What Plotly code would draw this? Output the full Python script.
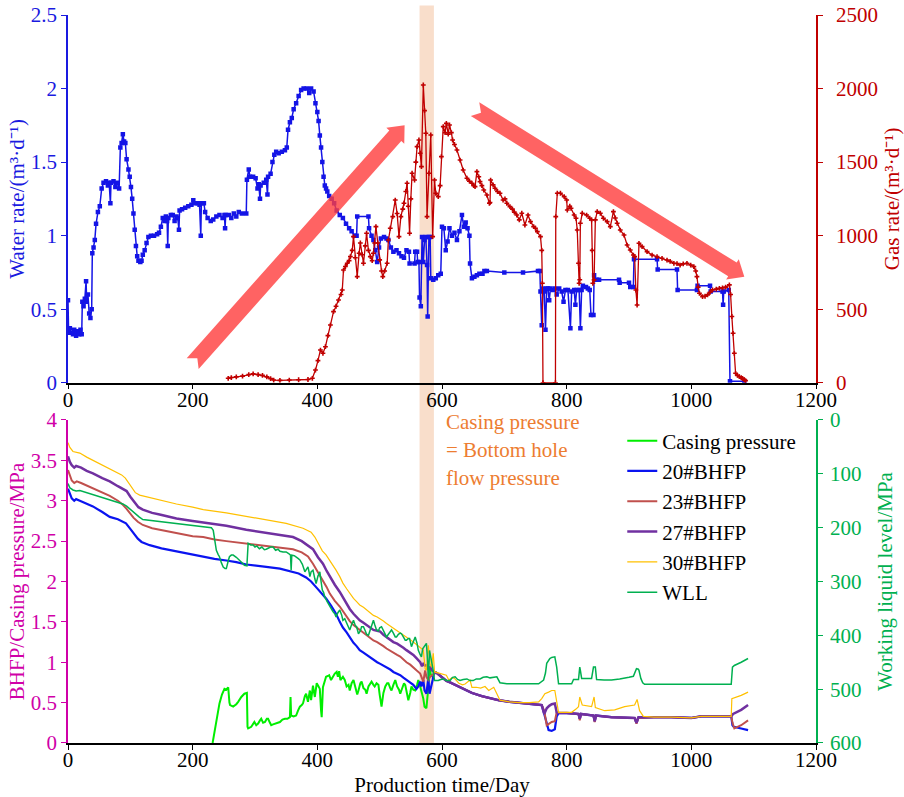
import math
import plotly.graph_objects as go

FONT = "Liberation Serif"

# ---------------- top panel: water rate (left) and gas rate (right) ----------------
water_pts = [
    (0, 0.56), (1, 0.34), (3, 0.37), (5, 0.34), (8, 0.33), (10, 0.36), (13, 0.32), (15, 0.35),
    (18, 0.33), (20, 0.36), (22, 0.33), (23, 0.55), (25, 0.52), (27, 0.57), (29, 0.69), (30, 0.55),
    (32, 0.6), (34, 0.47), (36, 0.44), (38, 0.5), (39, 0.88), (41, 0.92), (43, 0.97), (45, 1.08),
    (48, 1.16), (51, 1.2), (54, 1.32), (57, 1.36), (61, 1.37), (64, 1.34), (66, 1.36), (68, 1.22),
    (69, 1.36), (73, 1.37), (76, 1.33), (79, 1.36), (82, 1.32), (84, 1.6), (86, 1.63), (88, 1.69),
    (90, 1.64), (92, 1.63), (94, 1.52), (97, 1.45), (99, 1.4), (101, 1.33), (103, 1.25), (105, 1.15),
    (107, 1.04), (109, 0.93), (111, 0.86), (113, 0.83), (116, 0.82), (118, 0.83), (120, 0.87),
    (123, 0.9), (126, 0.95), (129, 0.99), (133, 1.0), (138, 1.0), (143, 1.01), (146, 1.02),
    (149, 1.06), (152, 1.12), (155, 1.1), (157, 1.13), (159, 1.1), (160, 0.93), (161, 1.12),
    (165, 1.14), (168, 1.14), (171, 1.1), (174, 1.13), (176, 1.12), (178, 1.04), (179, 1.17),
    (183, 1.18), (188, 1.19), (193, 1.2), (198, 1.21), (201, 1.24), (204, 1.22), (208, 1.22),
    (211, 1.21), (213, 1.0), (214, 1.22), (218, 1.22), (220, 1.16), (224, 1.12), (229, 1.1),
    (233, 1.11), (238, 1.13), (243, 1.14), (248, 1.12), (251, 1.14), (252, 1.05), (253, 1.14),
    (258, 1.14), (262, 1.12), (266, 1.15), (270, 1.13), (274, 1.16), (279, 1.15), (286, 1.15),
    (287, 1.38), (290, 1.45), (292, 1.4), (297, 1.4), (301, 1.39), (304, 1.32), (306, 1.35),
    (308, 1.25), (309, 1.34), (314, 1.36), (318, 1.38), (320, 1.28), (321, 1.4), (325, 1.42),
    (328, 1.5), (331, 1.55), (334, 1.57), (338, 1.56), (343, 1.57), (348, 1.58), (351, 1.6),
    (353, 1.72), (356, 1.77), (359, 1.8), (362, 1.86), (366, 1.9), (370, 1.95), (374, 1.99),
    (378, 2.0), (383, 2.0), (387, 1.97), (390, 2.0), (394, 1.98), (397, 1.9), (400, 1.84),
    (402, 1.78), (404, 1.68), (406, 1.6), (408, 1.5), (410, 1.4), (412, 1.34), (414, 1.32),
    (416, 1.3), (419, 1.27), (423, 1.25), (427, 1.22), (431, 1.17), (436, 1.14), (441, 1.12),
    (446, 1.08), (451, 1.05), (455, 1.03), (460, 1.0), (463, 1.0), (464, 1.13), (482, 1.13),
    (483, 1.05), (487, 1.0), (490, 0.97), (493, 0.9), (496, 0.82), (499, 0.92), (502, 0.98),
    (507, 0.99), (511, 0.98), (514, 0.97), (518, 0.92), (522, 0.89), (527, 0.9), (531, 0.88),
    (535, 0.86), (539, 0.85), (543, 0.9), (547, 0.89), (548, 0.81), (556, 0.81), (557, 0.89),
    (560, 0.89), (561, 0.82), (563, 0.82), (564, 0.58), (566, 0.52), (568, 0.99), (570, 0.82),
    (572, 0.97), (574, 0.99), (576, 0.8), (577, 0.45), (579, 0.99), (581, 0.99), (582, 0.71),
    (586, 0.7), (590, 0.71), (594, 0.73), (598, 0.74), (600, 1.06), (603, 1.05), (606, 0.9),
    (609, 0.96), (612, 1.05), (616, 1.0), (620, 1.02), (624, 0.97), (628, 1.03), (632, 1.14),
    (635, 1.06), (638, 1.09), (641, 1.05), (644, 1.0), (645, 0.81), (648, 0.71), (652, 0.72),
    (656, 0.73), (660, 0.74), (665, 0.74), (668, 0.76), (672, 0.76), (700, 0.75), (730, 0.75),
    (754, 0.76), (757, 0.76), (758, 0.62), (760, 0.39), (762, 0.64), (764, 0.62), (766, 0.36),
    (768, 0.64), (770, 0.64), (772, 0.56), (774, 0.64), (778, 0.63), (781, 0.64), (784, 0.6),
    (788, 0.64), (792, 0.62), (795, 0.55), (798, 0.63), (802, 0.63), (806, 0.37), (808, 0.62),
    (812, 0.63), (814, 0.53), (816, 0.63), (820, 0.63), (822, 0.37), (824, 0.63), (826, 0.66),
    (831, 0.65), (834, 0.64), (837, 0.63), (839, 0.46), (843, 0.46), (844, 0.73), (848, 0.7),
    (852, 0.7), (884, 0.7), (885, 0.68), (900, 0.68), (902, 0.65), (907, 0.65), (908, 0.84),
    (945, 0.84), (946, 0.77), (977, 0.77), (978, 0.63), (1009, 0.63), (1010, 0.66), (1030, 0.66),
    (1031, 0.62), (1050, 0.62), (1051, 0.53), (1052, 0.62), (1060, 0.63), (1062, 0.01), (1085, 0.01),
]

gas_pts = [
    (257, 30), (262, 35), (270, 40), (280, 45), (290, 55), (297, 60), (305, 55), (312, 50),
    (319, 40), (325, 28), (330, 18), (340, 16), (355, 18), (370, 20), (385, 22), (392, 30),
    (397, 86), (401, 150), (405, 222), (409, 200), (413, 245), (417, 320), (421, 392), (426, 483),
    (430, 520), (434, 562), (438, 600), (440, 630), (442, 766), (445, 790), (448, 812), (451, 830),
    (453, 857), (456, 900), (458, 993), (461, 850), (464, 721), (467, 880), (469, 950), (472, 870),
    (474, 812), (477, 930), (479, 1016), (482, 900), (485, 857), (488, 830), (490, 880), (492, 950),
    (494, 1061), (497, 950), (500, 835), (503, 760), (505, 721), (508, 760), (512, 812), (514, 970),
    (517, 1050), (521, 1129), (525, 1242), (528, 1150), (531, 993), (534, 1129), (537, 1180),
    (539, 1220), (542, 1300), (544, 1356), (546, 1200), (548, 1016), (550, 1250), (552, 1424),
    (556, 1378), (558, 1500), (560, 1605), (563, 1650), (565, 1560), (567, 1469), (570, 2024),
    (572, 1850), (574, 1696), (576, 1129), (579, 1424), (582, 1684), (585, 993), (588, 1378),
    (590, 1288), (594, 1265), (597, 1340), (599, 1537), (602, 1741), (605, 1700), (607, 1763),
    (610, 1690), (612, 1752), (615, 1700), (617, 1650), (620, 1620), (624, 1582), (629, 1514),
    (634, 1446), (640, 1390), (644, 1370), (648, 1356), (651, 1340), (653, 1333), (656, 1435),
    (659, 1400), (661, 1367), (664, 1340), (667, 1310), (672, 1276), (676, 1220), (677, 1225),
    (678, 1378), (682, 1345), (685, 1322), (689, 1300), (693, 1288), (698, 1242), (701, 1250),
    (704, 1220), (709, 1197), (713, 1180), (716, 1160), (720, 1140), (724, 1107), (728, 1152),
    (733, 1072), (738, 1140), (742, 1095), (747, 1061), (750, 1050), (753, 1027), (758, 993),
    (760, 900), (761, 676), (762, 0), (782, 0), (782.5, 1129), (785, 1288), (790, 1288),
    (796, 1265), (800, 1242), (801, 1174), (805, 1200), (807, 1186), (812, 1140), (815, 1118),
    (817, 1038), (819, 812), (820, 676), (821, 700), (822, 1084), (825, 1152), (832, 1140),
    (837, 1118), (840, 1107), (841, 900), (842, 676), (844, 699), (846, 1107), (849, 1163),
    (854, 1152), (859, 1118), (865, 1095), (870, 1061), (875, 1163), (878, 1120), (881, 1084),
    (886, 1038), (892, 1004), (897, 936), (902, 902), (907, 868), (909, 857), (911, 630),
    (913, 528), (916, 948), (921, 925), (929, 891), (937, 868), (945, 857), (953, 846),
    (961, 834), (966, 825), (972, 812), (977, 810), (982, 800), (987, 808), (993, 812),
    (999, 800), (1004, 789), (1007, 760), (1009, 721), (1011, 650), (1013, 608), (1018, 585),
    (1022, 588), (1026, 597), (1030, 615), (1034, 631), (1040, 636), (1045, 642), (1050, 645),
    (1055, 650), (1061, 665), (1063, 600), (1065, 450), (1067, 336), (1069, 200), (1071, 64),
    (1074, 50), (1077, 41), (1080, 35), (1082, 30), (1085, 20), (1087, 14),
]

# ---------------- bottom panel: pressures (left) and working liquid level (right) ----------------
casing_pts = [
    (232, 0.0), (235, 0.14), (238, 0.28), (241, 0.42), (243, 0.49), (247, 0.6), (251, 0.67),
    (254, 0.66), (257, 0.69), (259, 0.5), (260, 0.47), (265, 0.45), (270, 0.48), (273, 0.51),
    (278, 0.57), (283, 0.61), (287, 0.62), (288, 0.2), (289, 0.18), (294, 0.2), (297, 0.24),
    (299, 0.26), (302, 0.22), (305, 0.24), (308, 0.28), (310, 0.3), (313, 0.25), (316, 0.26),
    (319, 0.3), (321, 0.3), (324, 0.25), (326, 0.22), (329, 0.23), (332, 0.24), (336, 0.25),
    (340, 0.26), (344, 0.29), (348, 0.3), (352, 0.3), (356, 0.32), (357, 0.57), (358, 0.34),
    (362, 0.33), (366, 0.34), (369, 0.4), (372, 0.45), (375, 0.47), (377, 0.49), (380, 0.58),
    (382, 0.61), (385, 0.51), (388, 0.65), (390, 0.53), (393, 0.71), (396, 0.57), (399, 0.74),
    (402, 0.7), (404, 0.67), (406, 0.4), (407, 0.32), (409, 0.69), (412, 0.78), (414, 0.82),
    (417, 0.83), (419, 0.84), (422, 0.78), (425, 0.83), (428, 0.86), (431, 0.88), (433, 0.82),
    (435, 0.89), (437, 0.78), (441, 0.82), (444, 0.78), (447, 0.7), (450, 0.72), (452, 0.65),
    (455, 0.74), (458, 0.78), (461, 0.7), (464, 0.6), (466, 0.65), (469, 0.74), (471, 0.76),
    (474, 0.68), (477, 0.66), (479, 0.61), (482, 0.7), (485, 0.74), (487, 0.76), (490, 0.72),
    (492, 0.7), (495, 0.74), (498, 0.72), (500, 0.6), (503, 0.45), (506, 0.62), (509, 0.7),
    (512, 0.74), (514, 0.74), (517, 0.68), (519, 0.65), (522, 0.72), (525, 0.78), (528, 0.7),
    (531, 0.66), (533, 0.61), (536, 0.68), (539, 0.74), (541, 0.72), (544, 0.6), (546, 0.53),
    (549, 0.62), (551, 0.7), (554, 0.66), (557, 0.65), (560, 0.72), (562, 0.78), (565, 0.7),
    (567, 0.65), (570, 0.55), (572, 0.45), (575, 0.43), (577, 0.6), (578, 0.78), (580, 0.94),
    (582, 0.85), (585, 0.82),
]

bhfp20_pts = [
    (0, 3.15), (3, 3.08), (6, 3.03), (10, 3.0), (13, 3.02), (19, 3.0), (30, 2.96), (40, 2.93),
    (55, 2.86), (67, 2.8), (80, 2.77), (88, 2.74), (93, 2.72), (99, 2.66), (105, 2.6), (112, 2.53),
    (118, 2.49), (131, 2.45), (150, 2.41), (163, 2.39), (180, 2.36), (200, 2.33), (217, 2.31),
    (235, 2.28), (254, 2.26), (270, 2.24), (286, 2.21), (300, 2.2), (318, 2.18), (340, 2.16),
    (356, 2.13), (370, 2.1), (382, 2.05), (390, 2.0), (398, 1.93), (406, 1.86), (414, 1.79),
    (422, 1.7), (430, 1.6), (436, 1.5), (441, 1.43), (447, 1.37), (452, 1.31), (458, 1.24),
    (463, 1.2), (468, 1.15), (474, 1.12), (479, 1.09), (485, 1.06), (490, 1.03), (496, 1.0),
    (501, 0.98), (506, 0.96), (511, 0.94), (517, 0.91), (522, 0.88), (528, 0.86), (533, 0.84),
    (538, 0.81), (543, 0.78), (549, 0.75), (554, 0.72), (559, 0.67), (562, 0.7), (565, 0.76),
    (567, 0.7), (570, 0.78), (572, 0.65), (575, 0.61), (578, 0.8), (580, 0.61), (583, 0.7),
    (585, 0.78), (587, 0.86), (591, 0.87), (596, 0.84), (602, 0.8), (607, 0.77), (613, 0.75),
    (618, 0.73), (627, 0.7), (637, 0.66), (648, 0.62), (664, 0.58), (680, 0.55), (691, 0.53),
    (708, 0.51), (723, 0.5), (740, 0.49), (755, 0.48), (760, 0.47), (764, 0.36), (768, 0.25),
    (771, 0.16), (776, 0.15), (781, 0.17), (784, 0.33), (787, 0.37), (800, 0.37), (819, 0.36),
    (821, 0.3), (823, 0.36), (843, 0.34), (845, 0.27), (847, 0.34), (872, 0.32), (909, 0.31),
    (912, 0.25), (915, 0.31), (940, 0.32), (968, 0.32), (1000, 0.31), (1016, 0.33), (1064, 0.33),
    (1066, 0.22), (1068, 0.2), (1080, 0.18), (1091, 0.16),
]

bhfp23_pts = [
    (0, 3.38), (3, 3.3), (6, 3.25), (10, 3.22), (14, 3.24), (21, 3.22), (30, 3.19), (40, 3.15),
    (55, 3.1), (67, 3.06), (80, 3.0), (88, 2.95), (94, 2.9), (99, 2.85), (105, 2.79), (112, 2.74),
    (120, 2.7), (135, 2.66), (147, 2.64), (174, 2.6), (200, 2.56), (217, 2.55), (235, 2.52),
    (254, 2.5), (286, 2.47), (318, 2.44), (340, 2.42), (361, 2.4), (375, 2.36), (385, 2.31),
    (393, 2.22), (401, 2.12), (409, 2.02), (415, 1.93), (420, 1.85), (428, 1.76), (436, 1.69),
    (441, 1.63), (447, 1.56), (452, 1.51), (458, 1.46), (463, 1.43), (468, 1.4), (474, 1.36),
    (479, 1.33), (485, 1.3), (490, 1.27), (496, 1.25), (501, 1.23), (506, 1.2), (511, 1.17),
    (517, 1.14), (522, 1.11), (528, 1.09), (533, 1.07), (538, 1.03), (543, 1.0), (549, 0.97),
    (554, 0.94), (559, 0.9), (565, 0.86), (568, 0.8), (570, 0.76), (573, 0.9), (575, 0.82),
    (578, 0.78), (581, 0.82), (584, 0.84), (587, 0.86), (591, 0.87), (596, 0.84), (602, 0.8),
    (607, 0.77), (613, 0.75), (618, 0.73), (627, 0.7), (637, 0.66), (648, 0.62), (664, 0.58),
    (680, 0.55), (691, 0.53), (708, 0.51), (723, 0.5), (740, 0.49), (755, 0.48), (760, 0.47),
    (764, 0.4), (768, 0.22), (772, 0.24), (776, 0.26), (781, 0.27), (784, 0.38), (787, 0.37),
    (800, 0.37), (819, 0.36), (821, 0.28), (823, 0.36), (843, 0.34), (845, 0.26), (847, 0.34),
    (872, 0.32), (909, 0.31), (912, 0.24), (915, 0.31), (940, 0.32), (968, 0.32), (1000, 0.31),
    (1016, 0.33), (1064, 0.33), (1066, 0.25), (1069, 0.18), (1080, 0.22), (1091, 0.28),
]

bhfp27_pts = [
    (0, 3.55), (3, 3.48), (6, 3.44), (10, 3.41), (13, 3.43), (21, 3.41), (30, 3.37), (40, 3.34),
    (55, 3.28), (67, 3.24), (80, 3.18), (88, 3.15), (94, 3.12), (100, 3.05), (107, 2.98),
    (113, 2.92), (120, 2.89), (135, 2.85), (147, 2.83), (174, 2.78), (200, 2.75), (217, 2.73),
    (235, 2.71), (254, 2.69), (286, 2.64), (318, 2.6), (340, 2.57), (361, 2.55), (375, 2.5),
    (385, 2.45), (393, 2.4), (401, 2.3), (409, 2.22), (415, 2.13), (420, 2.06), (428, 1.96),
    (436, 1.87), (441, 1.8), (447, 1.73), (452, 1.66), (458, 1.6), (463, 1.56), (468, 1.52),
    (474, 1.49), (479, 1.46), (485, 1.43), (490, 1.4), (496, 1.39), (501, 1.38), (506, 1.34),
    (511, 1.31), (517, 1.28), (522, 1.25), (528, 1.23), (533, 1.21), (538, 1.18), (543, 1.15),
    (549, 1.12), (554, 1.09), (559, 1.05), (565, 1.0), (568, 0.95), (570, 0.98), (573, 0.96),
    (575, 0.96), (578, 0.92), (581, 0.94), (584, 0.9), (587, 0.88), (591, 0.87), (596, 0.84),
    (602, 0.8), (607, 0.77), (613, 0.75), (618, 0.73), (627, 0.7), (637, 0.66), (648, 0.62),
    (664, 0.58), (680, 0.55), (691, 0.53), (708, 0.51), (723, 0.5), (740, 0.49), (755, 0.48),
    (760, 0.47), (764, 0.36), (768, 0.43), (772, 0.46), (776, 0.48), (781, 0.49), (784, 0.38),
    (787, 0.37), (800, 0.37), (819, 0.36), (821, 0.3), (823, 0.36), (843, 0.34), (845, 0.27),
    (847, 0.34), (872, 0.32), (909, 0.31), (912, 0.25), (915, 0.32), (940, 0.32), (968, 0.32),
    (1000, 0.31), (1016, 0.33), (1064, 0.33), (1067, 0.36), (1080, 0.41), (1091, 0.47),
]

bhfp30_pts = [
    (0, 3.72), (3, 3.66), (8, 3.61), (13, 3.6), (19, 3.59), (30, 3.54), (40, 3.5), (55, 3.44),
    (67, 3.4), (80, 3.34), (86, 3.32), (92, 3.28), (97, 3.22), (103, 3.15), (108, 3.1),
    (115, 3.07), (120, 3.06), (147, 3.01), (174, 2.96), (200, 2.92), (217, 2.89), (254, 2.85),
    (289, 2.8), (318, 2.76), (350, 2.72), (377, 2.66), (390, 2.61), (396, 2.55), (402, 2.46),
    (408, 2.38), (414, 2.33), (422, 2.24), (430, 2.14), (436, 2.06), (441, 1.98), (447, 1.91),
    (452, 1.85), (458, 1.79), (463, 1.75), (468, 1.71), (474, 1.68), (479, 1.65), (485, 1.61),
    (490, 1.58), (496, 1.56), (501, 1.54), (506, 1.51), (511, 1.48), (517, 1.45), (522, 1.42),
    (528, 1.39), (533, 1.36), (538, 1.34), (543, 1.32), (549, 1.28), (554, 1.25), (559, 1.22),
    (565, 1.19), (570, 1.15), (573, 0.92), (575, 0.9), (578, 1.21), (581, 0.98), (583, 0.94),
    (586, 1.11), (588, 0.88), (596, 0.86), (601, 0.85), (607, 0.84), (611, 0.78), (616, 0.81),
    (620, 0.8), (627, 0.74), (633, 0.72), (637, 0.73), (645, 0.78), (648, 0.69), (655, 0.69),
    (662, 0.68), (669, 0.7), (675, 0.65), (683, 0.69), (688, 0.61), (693, 0.53), (708, 0.51),
    (723, 0.5), (740, 0.5), (755, 0.51), (760, 0.55), (765, 0.61), (771, 0.63), (776, 0.65),
    (781, 0.65), (784, 0.53), (787, 0.38), (800, 0.38), (808, 0.38), (815, 0.42), (819, 0.45),
    (821, 0.57), (823, 0.5), (825, 0.47), (840, 0.45), (844, 0.57), (846, 0.44), (861, 0.4),
    (877, 0.41), (893, 0.45), (909, 0.47), (913, 0.54), (917, 0.4), (923, 0.33), (940, 0.32),
    (968, 0.32), (1000, 0.31), (1016, 0.33), (1064, 0.33), (1065, 0.55), (1080, 0.59), (1091, 0.63),
]

wll_pts = [
    (0, 118), (3, 126), (8, 130), (13, 132), (19, 131), (30, 135), (40, 139), (55, 144), (67, 149),
    (80, 154), (88, 156), (94, 160), (100, 166), (107, 174), (114, 180), (120, 185), (135, 187),
    (147, 189), (174, 193), (200, 197), (215, 199), (230, 200), (233, 205), (235, 222), (238, 242),
    (241, 250), (243, 254), (246, 265), (249, 273), (252, 276), (254, 276), (257, 262), (259, 254),
    (262, 251), (265, 251), (270, 255), (275, 260), (280, 266), (283, 270), (287, 271), (289, 229),
    (293, 232), (297, 232), (300, 236), (303, 234), (307, 239), (311, 236), (315, 241), (318, 240),
    (322, 238), (325, 236), (329, 236), (333, 242), (337, 240), (340, 244), (345, 245), (350, 245),
    (354, 248), (357, 251), (358, 279), (359, 251), (363, 252), (366, 254), (369, 257), (372, 260),
    (376, 268), (380, 282), (383, 276), (385, 273), (387, 284), (388, 291), (390, 282), (393, 279),
    (396, 295), (398, 304), (401, 290), (404, 282), (406, 300), (408, 316), (410, 320), (412, 329),
    (416, 338), (420, 347), (423, 352), (425, 356), (428, 360), (430, 366), (433, 358), (436, 353),
    (439, 362), (441, 372), (444, 369), (447, 378), (449, 384), (452, 390), (455, 380), (458, 372),
    (461, 382), (463, 384), (466, 397), (469, 392), (471, 384), (474, 384), (477, 392), (479, 398),
    (482, 400), (485, 390), (487, 380), (490, 372), (492, 380), (495, 390), (498, 392), (500, 386),
    (503, 384), (506, 392), (509, 398), (511, 403), (514, 398), (517, 392), (519, 390), (522, 396),
    (525, 403), (527, 403), (530, 398), (533, 396), (535, 397), (538, 403), (541, 409), (543, 409),
    (546, 406), (548, 406), (551, 421), (554, 412), (557, 403), (560, 415), (562, 428), (565, 436),
    (567, 440), (569, 425), (572, 421), (575, 415), (577, 450), (578, 484), (580, 428), (582, 440),
    (585, 459), (588, 484), (594, 484), (598, 482), (602, 481), (607, 484), (613, 484), (617, 478),
    (621, 477), (625, 482), (629, 484), (634, 482), (640, 481), (645, 484), (650, 484), (655, 481),
    (661, 481), (666, 478), (672, 477), (677, 479), (682, 478), (688, 477), (693, 488), (704, 490),
    (730, 490), (755, 490), (763, 483), (766, 470), (768, 452), (771, 446), (773, 443), (776, 441),
    (779, 440), (781, 440), (784, 459), (786, 480), (787, 490), (808, 490), (811, 482), (819, 482),
    (820, 470), (821, 459), (822, 465), (824, 480), (840, 480), (842, 470), (843, 459), (846, 459),
    (847, 470), (848, 482), (860, 483), (872, 483), (885, 481), (893, 480), (900, 478), (907, 476),
    (910, 468), (912, 462), (915, 463), (916, 465), (919, 480), (922, 488), (925, 491), (960, 491),
    (1000, 491), (1040, 491), (1064, 491), (1066, 459), (1069, 456), (1080, 450), (1091, 443),
]

# day window where casing pressure equals bottom-hole flow pressure
band_days = (564, 587)

# trend arrows on the gas-rate panel: (day, gas rate) tail -> head
trend_arrows = [((200, 130), (540, 1750)), ((653, 1860), (1085, 720))]


def unzip(pts):
    return [p[0] for p in pts], [p[1] for p in pts]


# ---------------- geometry ----------------
W, H = 904, 797
M = dict(l=68, r=88, t=15, b=54)
PW = W - M["l"] - M["r"]
PH = H - M["t"] - M["b"]
TOP = [0.4949, 1.0]
BOT = [0.0, 0.4437]
X_MAX, GAS_MAX = 1200, 2500
FS = 21


def gas_px(day, gas):
    yp = TOP[0] + gas / GAS_MAX * (TOP[1] - TOP[0])
    return M["l"] + day / X_MAX * PW, M["t"] + (1 - yp) * PH


def to_paper(px, py):
    return (px - M["l"]) / PW, 1 - (py - M["t"]) / PH


def arrow_path(tail, head, shaft=16.0, head_w=24.0, head_len=14.0, notch=7.0):
    tx, ty = gas_px(*tail)
    hx, hy = gas_px(*head)
    L = math.hypot(hx - tx, hy - ty)
    ux, uy = (hx - tx) / L, (hy - ty) / L
    nx, ny = -uy, ux
    bx, by = hx - head_len * ux, hy - head_len * uy
    s, hw = shaft / 2, head_w / 2
    pts = [
        (tx + s * nx, ty + s * ny),
        (tx + notch * ux, ty + notch * uy),
        (tx - s * nx, ty - s * ny),
        (bx - s * nx, by - s * ny),
        (bx - hw * nx, by - hw * ny),
        (hx, hy),
        (bx + hw * nx, by + hw * ny),
        (bx + s * nx, by + s * ny),
    ]
    coords = [to_paper(*p) for p in pts]
    return "M " + " L ".join(f"{x:.5f},{y:.5f}" for x, y in coords) + " Z"


fig = go.Figure()

wx, wy = unzip(water_pts)
fig.add_trace(go.Scatter(
    x=wx, y=wy, xaxis="x", yaxis="y", mode="lines+markers", showlegend=False,
    line=dict(color="#1414E6", width=1.5),
    marker=dict(symbol="square", size=4.5, color="#1414E6"),
))
gx, gy = unzip(gas_pts)
fig.add_trace(go.Scatter(
    x=gx, y=gy, xaxis="x", yaxis="y2", mode="lines+markers", showlegend=False,
    line=dict(color="#C00000", width=1.3),
    marker=dict(symbol="cross", size=4, color="#C00000"),
))

bottom_series = [
    ("Casing pressure", casing_pts, "#00EE00", 2.0, "y3"),
    ("20#BHFP", bhfp20_pts, "#0A14F0", 2.2, "y3"),
    ("23#BHFP", bhfp23_pts, "#C0504D", 2.0, "y3"),
    ("27#BHFP", bhfp27_pts, "#7030A0", 2.5, "y3"),
    ("30#BHFP", bhfp30_pts, "#FFC000", 1.2, "y3"),
    ("WLL", wll_pts, "#00B050", 1.5, "y4"),
]
for name, pts, color, width, yax in bottom_series:
    x, y = unzip(pts)
    fig.add_trace(go.Scatter(
        x=x, y=y, name=name, xaxis="x2", yaxis=yax, mode="lines",
        line=dict(color=color, width=width),
    ))

common_x = dict(range=[0, X_MAX], dtick=200, showline=True, linecolor="black", linewidth=1.5,
                ticks="outside", ticklen=5, tickcolor="black", ticklabelstandoff=-8,
                tickfont=dict(family=FONT, size=FS, color="black"),
                showgrid=False, zeroline=False, automargin=False)


def yax(color, rng, dtick, title, standoff, domain=None, side="left", overlay=None, anchor="x",
        label_shift=0):
    d = dict(range=rng, dtick=dtick, color=color, showline=True, linecolor=color, linewidth=1.5,
             ticks="outside", ticklen=5, tickcolor=color, ticklabelstandoff=label_shift,
             tickfont=dict(family=FONT, size=FS, color=color),
             showgrid=False, zeroline=False, side=side, anchor=anchor, automargin=False,
             title=dict(text=title, font=dict(family=FONT, size=FS, color=color), standoff=standoff))
    if domain is not None:
        d["domain"] = domain
    if overlay is not None:
        d["overlaying"] = overlay
    return d


fig.update_layout(
    width=W, height=H, margin=dict(M, autoexpand=False),
    paper_bgcolor="white", plot_bgcolor="rgba(0,0,0,0)",
    font=dict(family=FONT, size=FS, color="black"),
    xaxis=dict(common_x, domain=[0, 1], anchor="y"),
    xaxis2=dict(common_x, domain=[0, 1], anchor="y3",
                title=dict(text="Production time/Day", font=dict(family=FONT, size=FS, color="black"),
                           standoff=7)),
    yaxis=yax("#1A1AE0", [0, 2.5], 0.5, "Water rate/(m³·d⁻¹)", 0, domain=TOP),
    yaxis2=yax("#C00000", [0, GAS_MAX], 500, "Gas rate/(m³·d⁻¹)", 8, side="right", overlay="y",
               label_shift=9),
    yaxis3=yax("#D000A8", [0, 4], 0.5, "BHFP/Casing pressure/MPa", 0, domain=BOT, anchor="x2"),
    yaxis4=yax("#00B050", [600, 0], 100, "Working liquid level/MPa", 17, side="right", overlay="y3",
               anchor="x2", label_shift=3),
    legend=dict(x=0.741, y=0.443, xanchor="left", yanchor="top", bgcolor="rgba(0,0,0,0)",
                font=dict(family=FONT, size=FS, color="black"), tracegroupgap=0),
    showlegend=True,
)

# highlighted window spanning both panels
fig.add_shape(type="rect", xref="x", yref="paper", x0=band_days[0], x1=band_days[1],
              y0=0, y1=1.013, fillcolor="#F9DECB", line=dict(width=0), layer="below")

for tail, head in trend_arrows:
    fig.add_shape(type="path", xref="paper", yref="paper", path=arrow_path(tail, head),
                  fillcolor="rgba(255,60,60,0.8)", line=dict(width=0), layer="above")

note_lines = ["Casing pressure", "= Bottom hole", "flow pressure"]
note_y = [0.441, 0.4025, 0.364]
for txt, yy in zip(note_lines, note_y):
    fig.add_annotation(x=0.503, y=yy, xref="paper", yref="paper", text=txt, showarrow=False,
                       xanchor="left", yanchor="middle",
                       font=dict(family=FONT, size=FS, color="#ED7D31"))

fig.write_html("out.html")
